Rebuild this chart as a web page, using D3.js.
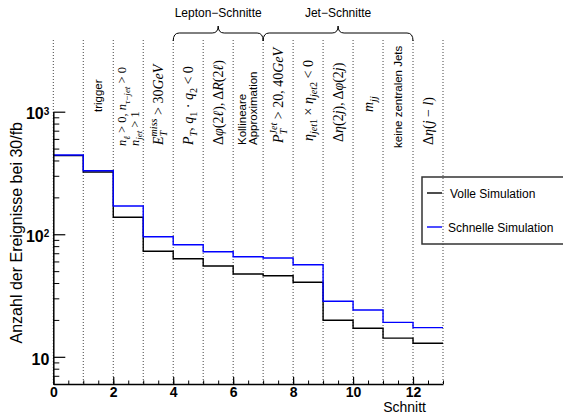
<!DOCTYPE html>
<html>
<head>
<meta charset="utf-8">
<script src="https://cdn.jsdelivr.net/npm/d3@7"></script>
<style>
body { margin: 0; background: #fff; }
svg { display: block; font-family: "Liberation Sans", Arial, sans-serif; }
text { white-space: pre; }
</style>
</head>
<body>
<div id="chart"></div>
<script>
const SVG_WIDTH = 563;
const SVG_HEIGHT = 414;
const PLOT = { left: 53.3, right: 443, top: 111.7, bottom: 384, guideTop: 40 };
const SANS = "'Liberation Sans', Arial, sans-serif";
const SERIF = "'Liberation Serif', 'Times New Roman', serif";

// data
const CUTS = d3.range(13);
const VOLLE = [438, 322, 137.6, 72.6, 63.2, 55.1, 47.4, 45.9, 40.6, 19.9, 17.1, 14.2, 12.9];
const SCHNELLE = [443, 330, 170, 95.5, 82.2, 72, 65.6, 64, 56.4, 28.4, 24.1, 19.1, 17.3];
const SERIES_NAMES = ["Volle Simulation", "Schnelle Simulation"];
const X_TICKS = [0, 2, 4, 6, 8, 10, 12];
const Y_TICKS = [10, 100, 1000];
const Y_EXPONENTS = ["", "2", "3"];
const CUT_LABELS = [
    { cut: 1, math: false, lines: ["trigger"] },
    { cut: 2, math: true, lines: ["n_{ℓ} > 0, n_{τ−jet} > 0", "n_{jet} > 1"] },
    { cut: 3, math: true, lines: ["E_{T}^{miss} > 30GeV"] },
    { cut: 4, math: true, lines: ["P_{T}, q_{1} · q_{2} < 0"] },
    { cut: 5, math: true, lines: ["Δφ(2ℓ), ΔR(2ℓ)"] },
    { cut: 6, math: false, lines: ["Kollineare", "Approximation"] },
    { cut: 7, math: true, lines: ["P_{T}^{Jet} > 20, 40GeV"] },
    { cut: 8, math: true, lines: ["η_{jet1} × η_{jet2} < 0"] },
    { cut: 9, math: true, lines: ["Δη(2j), Δφ(2j)"] },
    { cut: 10, math: true, lines: ["m_{jj}"] },
    { cut: 11, math: false, lines: ["keine zentralen Jets"] },
    { cut: 12, math: true, lines: ["Δη(j − l)"] }
];
const GROUPS = [
    { name: "Lepton−Schnitte", from: 4, to: 7 },
    { name: "Jet−Schnitte", from: 7, to: 12 }
];

// layout of the rotated cut labels (screen y of where each text starts)
const LABEL_START_Y = [112, 146, 145, 145, 145, 145, 143, 141, 142, 112, 148, 145];

const getScales = () => {
    const x = d3.scaleLinear().domain([0, 13]).range([PLOT.left, PLOT.right]);
    const y = d3.scaleLog().domain([6, 1000]).range([PLOT.bottom, PLOT.top]);
    return { x, y };
};

// small markup: _{..} subscript, ^{..} superscript; letters italic in math
const appendRich = (textSel, str, math, size) => {
    const parts = str.split(/(_\{[^}]*\}|\^\{[^}]*\})/).filter(s => s.length);
    const letter = /[A-Za-zα-ωℓ]/;
    let shift = 0;
    let prevSub = false;
    let subLen = 0;
    parts.forEach(p => {
        let kind = "n";
        let body = p;
        if (p.startsWith("_{")) { kind = "sub"; body = p.slice(2, -1); }
        else if (p.startsWith("^{")) { kind = "sup"; body = p.slice(2, -1); }
        const fs = kind === "n" ? size : size * 0.72;
        const target = kind === "sub" ? size * 0.28 : kind === "sup" ? -size * 0.42 : 0;
        const runs = math ? body.match(/[A-Za-zα-ωℓ]+|[^A-Za-zα-ωℓ]+/g) : [body];
        let len = 0;
        runs.forEach((r, i) => {
            const t = textSel.append("tspan")
                .text(r)
                .attr("font-size", fs)
                .attr("font-style", math && letter.test(r) ? "italic" : "normal");
            if (i === 0) {
                t.attr("dy", target - shift);
                if (kind === "sup" && prevSub) t.attr("dx", -subLen);
            }
            len += t.node().getComputedTextLength();
        });
        shift = target;
        prevSub = kind === "sub";
        subLen = len;
    });
};

const appendGuides = (svg, scales) => {
    svg.append("g")
        .selectAll("line")
        .data(CUTS.concat([13]))
        .join("line")
        .attr("x1", d => scales.x(d))
        .attr("x2", d => scales.x(d))
        .attr("y1", PLOT.guideTop)
        .attr("y2", PLOT.bottom)
        .attr("stroke", "#444")
        .attr("stroke-width", 1)
        .attr("stroke-dasharray", "1,2");
};

const appendAxes = (svg, scales) => {
    // x minor ticks
    svg.append("g")
        .attr("transform", `translate(0,${PLOT.bottom})`)
        .call(d3.axisBottom(scales.x)
            .tickValues(d3.range(0, 13.01, 0.5))
            .tickSizeInner(-3.5)
            .tickSizeOuter(0)
            .tickFormat(""))
        .call(g => g.select(".domain").remove());

    const xAxis = svg.append("g")
        .attr("transform", `translate(0,${PLOT.bottom})`)
        .call(d3.axisBottom(scales.x)
            .tickValues(X_TICKS)
            .tickSizeInner(-7)
            .tickSizeOuter(0)
            .tickPadding(3)
            .tickFormat(d3.format("d")));
    xAxis.select(".domain").attr("stroke-width", 1.5);
    xAxis.selectAll("line").attr("stroke-width", 1.2);
    xAxis.selectAll("text")
        .attr("font-family", SANS)
        .attr("font-size", 14)
        .attr("font-weight", "bold")
        .attr("fill", "#000");

    // y minor ticks
    const minor = [];
    [1, 10, 100].forEach(dec => d3.range(2, 10).forEach(k => minor.push(k * dec)));
    svg.append("g")
        .attr("transform", `translate(${PLOT.left},0)`)
        .call(d3.axisLeft(scales.y)
            .tickValues(minor.filter(v => v >= 6 && v <= 1000))
            .tickSizeInner(-6)
            .tickSizeOuter(0)
            .tickFormat(""))
        .call(g => g.select(".domain").remove());

    const yAxis = svg.append("g")
        .attr("transform", `translate(${PLOT.left},0)`)
        .call(d3.axisLeft(scales.y)
            .tickValues(Y_TICKS)
            .tickSizeInner(-12)
            .tickSizeOuter(0)
            .tickPadding(4)
            .tickFormat(() => "10"));
    yAxis.select(".domain").attr("stroke-width", 1.5);
    yAxis.selectAll("line").attr("stroke-width", 1.2);
    yAxis.selectAll("text")
        .attr("font-family", SANS)
        .attr("font-size", 16)
        .attr("font-weight", "bold")
        .attr("fill", "#000")
        .attr("dy", "0.45em")
        .each(function (d, i) {
            if (!Y_EXPONENTS[i]) return;
            d3.select(this).append("tspan")
                .attr("dy", "-0.45em")
                .attr("font-size", 10)
                .text(Y_EXPONENTS[i]);
        });

    svg.append("text")
        .attr("x", 426)
        .attr("y", 412)
        .attr("text-anchor", "end")
        .attr("font-size", 14)
        .text("Schnitt");

    svg.append("text")
        .attr("transform", "translate(22,122) rotate(-90)")
        .attr("text-anchor", "end")
        .attr("font-size", 16)
        .text("Anzahl der Ereignisse bei 30/fb");
};

const appendData = (svg, scales) => {
    const line = d3.line()
        .x(d => scales.x(d[0]))
        .y(d => scales.y(d[1]))
        .curve(d3.curveStepAfter);
    const toPoints = vals => CUTS.map(i => [i, vals[i]]).concat([[13, vals[12]]]);

    [[VOLLE, "#000"], [SCHNELLE, "#0000ff"]].forEach(([vals, color]) => {
        svg.append("path")
            .attr("d", line(toPoints(vals)))
            .attr("fill", "none")
            .attr("stroke", color)
            .attr("stroke-width", 1.4);
    });
};

const appendAnnotations = (svg, scales) => {
    CUT_LABELS.forEach((lab, i) => {
        const n = lab.lines.length;
        const size = lab.math ? (n > 1 ? 12.5 : 14) : 11.5;
        const gap = lab.math ? 12.5 : 11;
        const g = svg.append("g")
            .attr("transform", `translate(${scales.x(lab.cut + 0.5)},${LABEL_START_Y[i]}) rotate(-90)`);
        lab.lines.forEach((ln, j) => {
            const t = g.append("text")
                .attr("x", 0)
                .attr("y", (j - (n - 1) / 2) * gap + size * 0.33)
                .attr("font-family", lab.math ? SERIF : SANS)
                .attr("font-size", size);
            appendRich(t, ln, lab.math, size);
        });
    });

    const yEnd = 41, yLine = 33, yCusp = 26, r = 6;
    GROUPS.forEach(grp => {
        const x0 = scales.x(grp.from);
        const x1 = scales.x(grp.to);
        const xm = (x0 + x1) / 2;
        const path = `M${x0},${yEnd} Q${x0},${yLine} ${x0 + r},${yLine} L${xm - r},${yLine}` +
            ` Q${xm},${yLine} ${xm},${yCusp} Q${xm},${yLine} ${xm + r},${yLine}` +
            ` L${x1 - r},${yLine} Q${x1},${yLine} ${x1},${yEnd}`;
        svg.append("path")
            .attr("d", path)
            .attr("fill", "none")
            .attr("stroke", "#000")
            .attr("stroke-width", 1);
        svg.append("text")
            .attr("x", xm)
            .attr("y", 17)
            .attr("text-anchor", "middle")
            .attr("font-size", 12)
            .text(grp.name);
    });
};

const appendLegend = (svg) => {
    svg.append("rect")
        .attr("x", 422)
        .attr("y", 177)
        .attr("width", 160)
        .attr("height", 67)
        .attr("fill", "none")
        .attr("stroke", "#333")
        .attr("stroke-width", 1.5);
    const rows = [[SERIES_NAMES[0], "#000", 193, 450], [SERIES_NAMES[1], "#0000ff", 227, 448]];
    rows.forEach(([name, color, yy, tx]) => {
        svg.append("line")
            .attr("x1", 427).attr("x2", 442)
            .attr("y1", yy).attr("y2", yy)
            .attr("stroke", color)
            .attr("stroke-width", 1.4);
        svg.append("text")
            .attr("x", tx)
            .attr("y", yy + 5)
            .attr("font-size", 12)
            .text(name);
    });
};

const drawChart = (containerId) => {
    const container = d3.select("#" + containerId);
    container.html("");
    const svg = container.append("svg")
        .attr("width", SVG_WIDTH)
        .attr("height", SVG_HEIGHT);
    const scales = getScales();
    appendGuides(svg, scales);
    appendData(svg, scales);
    appendAxes(svg, scales);
    appendAnnotations(svg, scales);
    appendLegend(svg);
};

drawChart("chart");
</script>
</body>
</html>
